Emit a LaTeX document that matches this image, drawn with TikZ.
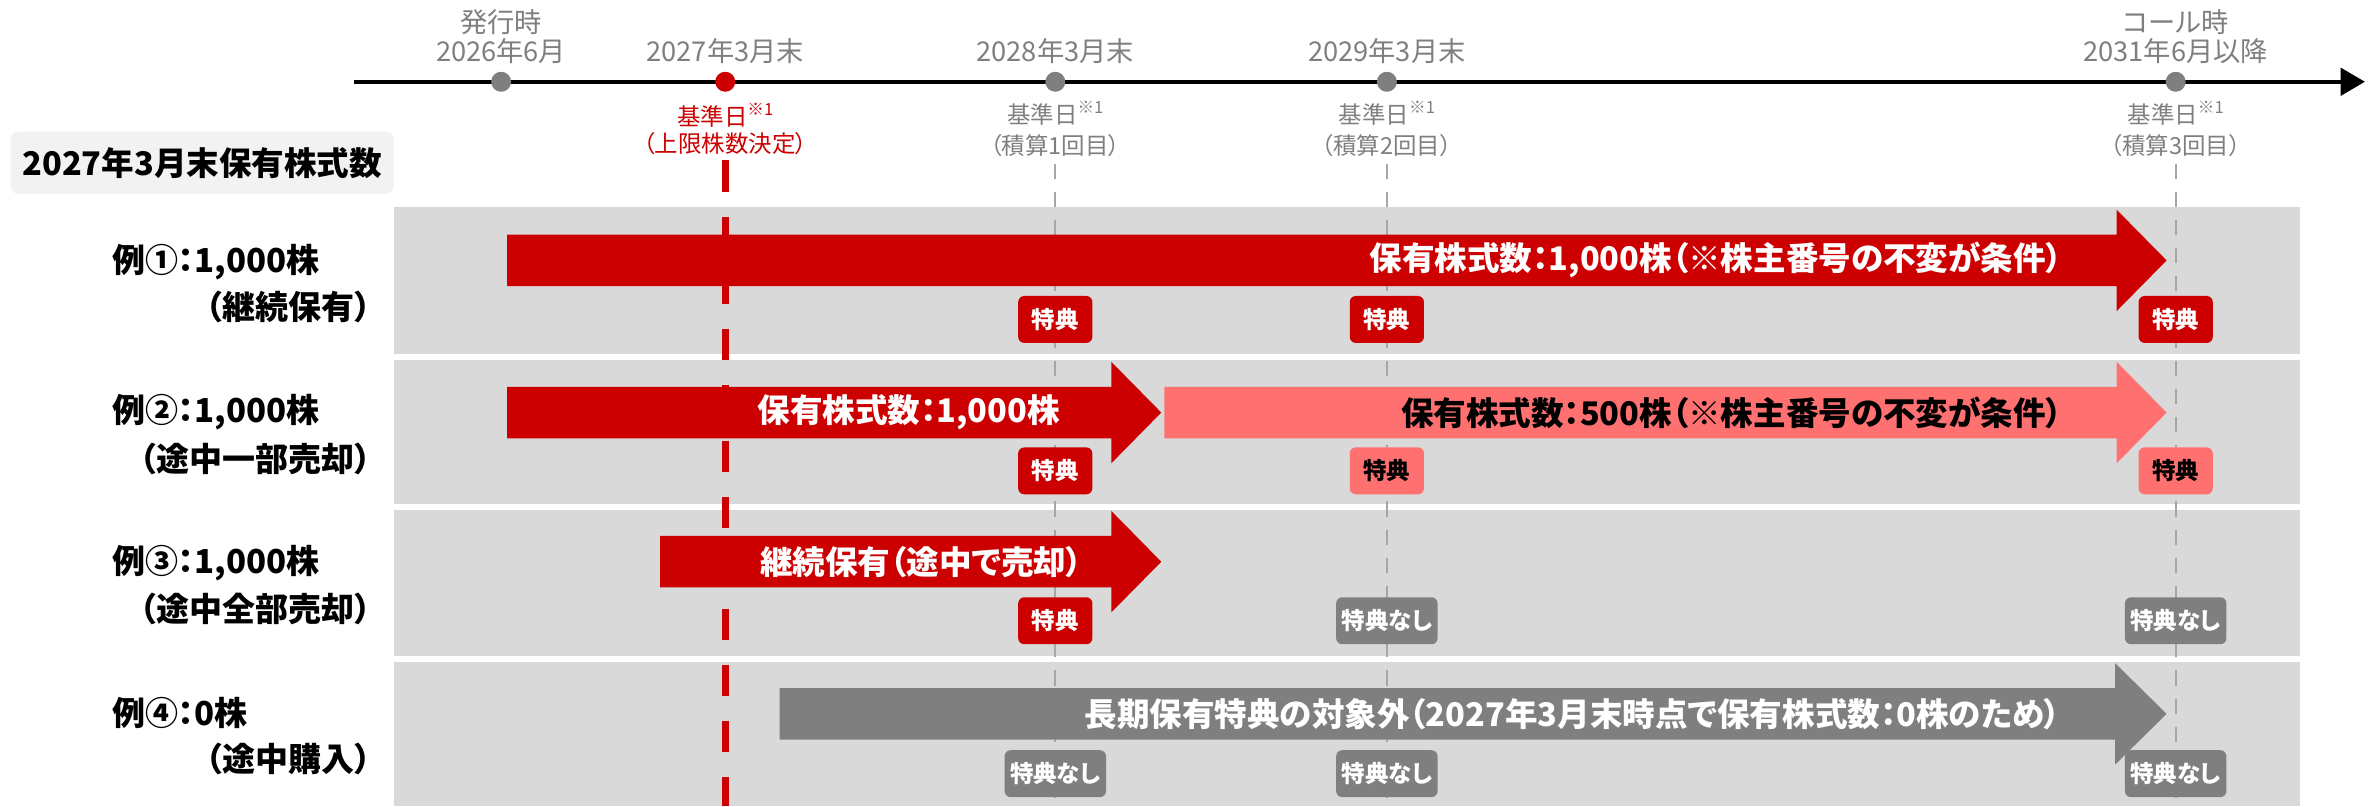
\documentclass[tikz,border=0pt]{standalone}
\usepackage{fontspec}
\setmainfont{Noto Sans CJK JP}[RawFeature=+palt]
\usetikzlibrary{arrows.meta}
\definecolor{kred}{HTML}{CC0000}
\definecolor{kpink}{HTML}{FF7171}
\definecolor{kgray}{HTML}{7F7F7F}
\definecolor{kband}{HTML}{D9D9D9}
\definecolor{ktitle}{HTML}{F2F2F2}
\definecolor{kdash}{HTML}{A6A6A6}
\newcommand{\kfs}[1]{\fontsize{#1}{#1}\selectfont}
\newcommand{\refmark}{\raisebox{0.42em}{\kfs{11}※1}}
\newcommand{\bararrow}[5]{\fill[#1] (#2,{#5-17}) -- (#3,{#5-17}) -- (#3,{#5-33.5}) -- (#4,#5) -- (#3,{#5+33.5}) -- (#3,{#5+17}) -- (#2,{#5+17}) -- cycle;}
\begin{document}
\begin{tikzpicture}[x=1pt,y=-1pt,
  every node/.style={inner sep=0pt, outer sep=0pt},
  tl/.style={text=kgray, font=\kfs{18}},
  reflab/.style={text=kgray, font=\kfs{15.5}},
  lab/.style={font=\bfseries\kfs{21.8}},
  arrtext/.style={font=\bfseries\kfs{21.5}, anchor=east},
  kbox/.style={rounded corners=4pt, minimum width=49pt, minimum height=31pt, font=\bfseries\kfs{15.5}, text=white},
  kboxw/.style={kbox, minimum width=67pt},
  kdot/.style={circle, minimum size=13.2pt},
  gdash/.style={draw=kdash, line width=1.5pt, dash pattern=on 10pt off 8.6pt},
  rdash/.style={draw=kred, line width=4.5pt, dash pattern=on 21pt off 16pt},
]
\useasboundingbox (0,0) rectangle (1568,532.4);
% row bands
\fill[kband] (260,137) rectangle (1519,234);
\fill[kband] (260,238) rectangle (1519,333);
\fill[kband] (260,337) rectangle (1519,433);
\fill[kband] (260,437) rectangle (1519,532.4);
% dashed guide lines
\coordinate (g1t) at (697,108); \coordinate (g1b) at (697,532.4);
\coordinate (g2t) at (916,108); \coordinate (g2b) at (916,532.4);
\coordinate (g3t) at (1437,108); \coordinate (g3b) at (1437,532.4);
\draw[gdash] (g1t) -- (g1b);
\draw[gdash] (g2t) -- (g2b);
\draw[gdash] (g3t) -- (g3b);
\coordinate (rdt) at (479,106); \coordinate (rdb) at (479,532.4);
\draw[rdash] (rdt) -- (rdb);
% arrows
\bararrow{kred}{335}{1398}{1431}{172}
\bararrow{kred}{335}{734}{767}{272.5}
\bararrow{kpink}{769}{1398}{1431}{272.5}
\bararrow{kred}{436}{734}{767}{371}
\bararrow{kgray}{515}{1397}{1431}{471.5}
\node[arrtext, text=white] (a1t) at (1362,172) {保有株式数：1,000株（※株主番号の不変が条件）};
\node[arrtext, text=white] (a2t) at (700,272.5) {保有株式数：1,000株};
\node[arrtext, text=black] (a2u) at (1362,272.5) {保有株式数：500株（※株主番号の不変が条件）};
\node[arrtext, text=white] (a3t) at (715,371) {継続保有（途中で売却）};
\node[arrtext, text=white] (a4t) at (1361,471.5) {長期保有特典の対象外（2027年3月末時点で保有株式数：0株のため）};
% benefit boxes
\node[kbox, fill=kred] (b11) at (697,211) {特典};
\node[kbox, fill=kred] (b12) at (916,211) {特典};
\node[kbox, fill=kred] (b13) at (1437,211) {特典};
\node[kbox, fill=kred] (b21) at (697,311) {特典};
\node[kbox, fill=kpink, text=black] (b22) at (916,311) {特典};
\node[kbox, fill=kpink, text=black] (b23) at (1437,311) {特典};
\node[kbox, fill=kred] (b31) at (697,410) {特典};
\node[kboxw, fill=kgray] (b32) at (916,410) {特典なし};
\node[kboxw, fill=kgray] (b33) at (1437,410) {特典なし};
\node[kboxw, fill=kgray] (b41) at (697,511) {特典なし};
\node[kboxw, fill=kgray] (b42) at (916,511) {特典なし};
\node[kboxw, fill=kgray] (b43) at (1437,511) {特典なし};
% timeline
\coordinate (ts) at (234,54); \coordinate (te) at (1562,54);
\draw[line width=2.6pt, -{Triangle[length=16pt,width=18pt]}] (ts) -- (te);
\node[kdot, fill=kgray] (d1) at (331,54) {};
\node[kdot, fill=kred] (d2) at (479,54) {};
\node[kdot, fill=kgray] (d3) at (697,54) {};
\node[kdot, fill=kgray] (d4) at (916,54) {};
\node[kdot, fill=kgray] (d5) at (1437,54) {};
\node[tl] (l1a) at (331,14.5) {発行時};
\node[tl] (l1b) at (331,34) {2026年6月};
\node[tl] (l2) at (479,34) {2027年3月末};
\node[tl] (l3) at (697,34) {2028年3月末};
\node[tl] (l4) at (916,34) {2029年3月末};
\node[tl] (l5a) at (1437,14.5) {コール時};
\node[tl] (l5b) at (1437,34) {2031年6月以降};
\node[reflab, text=kred] (k2a) at (479,76) {基準日\refmark};
\node[reflab, text=kred] (k2b) at (479,95) {（上限株数決定）};
\node[reflab] (k3a) at (697,75) {基準日\refmark};
\node[reflab] (k3b) at (697,96) {（積算1回目）};
\node[reflab] (k4a) at (916,75) {基準日\refmark};
\node[reflab] (k4b) at (916,96) {（積算2回目）};
\node[reflab] (k5a) at (1437,75) {基準日\refmark};
\node[reflab] (k5b) at (1437,96) {（積算3回目）};
% title
\node[fill=ktitle, rounded corners=5pt, minimum width=253pt, minimum height=41pt, font=\bfseries\kfs{21.5}] (title) at (133.5,107.5) {2027年3月末保有株式数};
% row labels
\node[lab, anchor=west] (r1a) at (74,173) {例①：1,000株};
\node[lab, anchor=east] (r1b) at (245,203) {（継続保有）};
\node[lab, anchor=west] (r2a) at (74,272.5) {例②：1,000株};
\node[lab, anchor=east] (r2b) at (245,303) {（途中一部売却）};
\node[lab, anchor=west] (r3a) at (74,372) {例③：1,000株};
\node[lab, anchor=east] (r3b) at (245,402) {（途中全部売却）};
\node[lab, anchor=west] (r4a) at (74,471) {例④：0株};
\node[lab, anchor=east] (r4b) at (245,501) {（途中購入）};
\end{tikzpicture}
\end{document}
